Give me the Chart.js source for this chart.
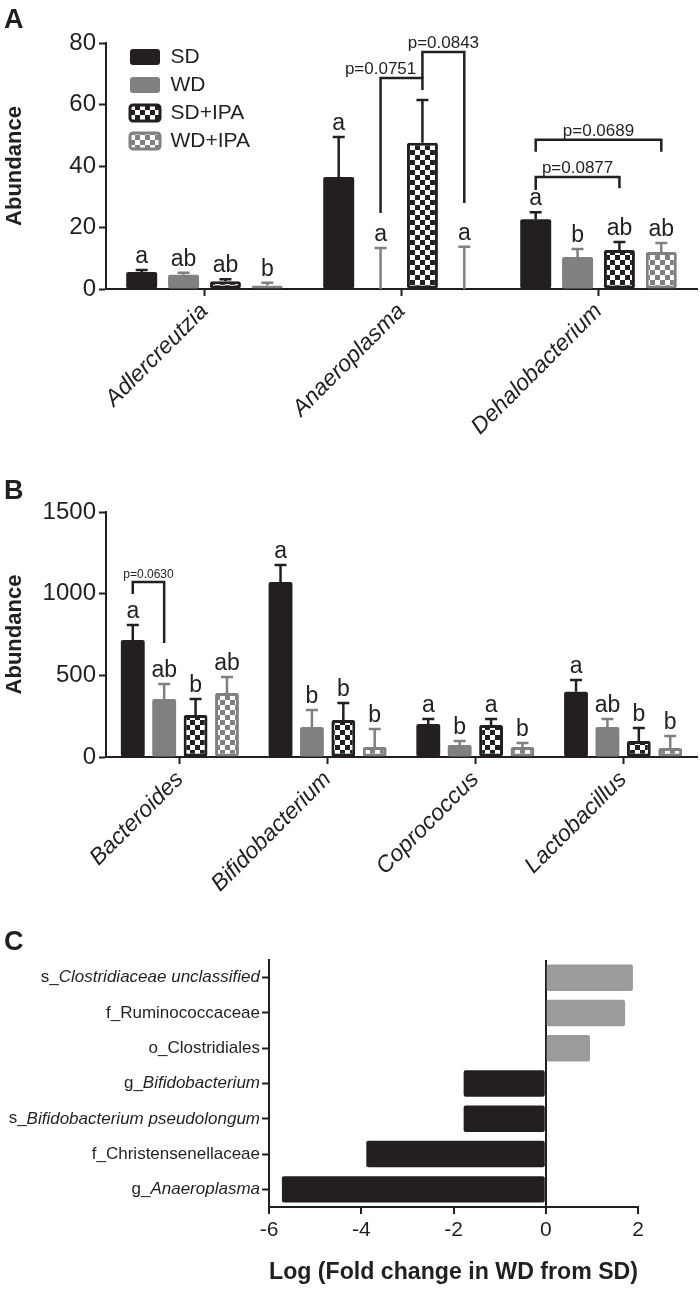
<!DOCTYPE html>
<html>
<head>
<meta charset="utf-8">
<title>Abundance by diet</title>
<script src="https://cdn.jsdelivr.net/npm/chart.js@4.4.1/dist/chart.umd.min.js"></script>
<style>
  body { margin: 0; background: #fff; }
  #page { position: relative; width: 700px; height: 1290px; overflow: hidden; font-family: 'Liberation Sans', Arial, sans-serif; color: #231f20; }
  .tag { position: absolute; left: 4px; font-size: 27px; line-height: 27px; font-weight: bold; }
  canvas { position: absolute; left: 0; }
</style>
</head>
<body>
<div id="page">
  <canvas id="chartA" width="700" height="440" style="top:0"></canvas>
  <canvas id="chartB" width="700" height="440" style="top:460px"></canvas>
  <canvas id="chartC" width="700" height="370" style="top:920px"></canvas>
  <div class="tag" style="top:6px">A</div>
  <div class="tag" style="top:477px">B</div>
  <div class="tag" style="top:928px">C</div>
</div>
<script>
const groups = ['SD', 'WD', 'SD+IPA', 'WD+IPA'];

// Panel A
const generaA = ['Adlercreutzia', 'Anaeroplasma', 'Dehalobacterium'];
const sdA = [5.5, 36.4, 22.7];
const wdA = [4.6, 0, 10.4];
const sdIpaA = [2.5, 47.6, 12.7];
const wdIpaA = [1.1, 0, 12.0];
// upper end of each error bar
const sdErrA = [6.2, 49.4, 25.0];
const wdErrA = [5.3, 13.3, 13.0];
const sdIpaErrA = [3.2, 61.5, 15.3];
const wdIpaErrA = [2.0, 13.7, 15.0];
const sdLettersA = ['a', 'a', 'a'];
const wdLettersA = ['ab', 'a', 'b'];
const sdIpaLettersA = ['ab', '', 'ab'];
const wdIpaLettersA = ['b', 'a', 'ab'];
const ticksA = [0, 20, 40, 60, 80];
const bracketsA = [
  { genus: 1, from: 'WD', to: 'SD+IPA', top: 68.6, ends: [24.7, 64.7], p: 'p=0.0751', over: 'from' },
  { genus: 1, from: 'SD+IPA', to: 'WD+IPA', top: 77.1, ends: [68.6, 28.0], p: 'p=0.0843' },
  { genus: 2, from: 'SD', to: 'WD+IPA', top: 48.5, ends: [44.6, 44.6], p: 'p=0.0689' },
  { genus: 2, from: 'SD', to: 'SD+IPA', top: 36.4, ends: [32.2, 32.8], p: 'p=0.0877' }
];

// Panel B
const generaB = ['Bacteroides', 'Bifidobacterium', 'Coprococcus', 'Lactobacillus'];
const sdB = [716, 1071, 202, 399];
const wdB = [355, 184, 73, 184];
const sdIpaB = [257, 226, 196, 98];
const wdIpaB = [392, 61, 61, 55];
const sdErrB = [808, 1175, 233, 471];
const wdErrB = [447, 288, 98, 233];
const sdIpaErrB = [355, 330, 233, 177];
const wdIpaErrB = [490, 171, 86, 129];
const sdLettersB = ['a', 'a', 'a', 'a'];
const wdLettersB = ['ab', 'b', 'b', 'ab'];
const sdIpaLettersB = ['b', 'b', 'a', 'b'];
const wdIpaLettersB = ['ab', 'b', 'b', 'b'];
const ticksB = [0, 500, 1000, 1500];
const bracketsB = [
  { genus: 0, from: 'SD', to: 'WD', top: 1071, ends: [998, 698], p: 'p=0.0630' }
];

// Panel C
const taxa = ['s_Clostridiaceae unclassified', 'f_Ruminococcaceae', 'o_Clostridiales',
  'g_Bifidobacterium', 's_Bifidobacterium pseudolongum', 'f_Christensenellaceae', 'g_Anaeroplasma'];
const logFold = [1.89, 1.72, 0.96, -1.78, -1.78, -3.89, -5.72];
const ticksC = [-6, -4, -2, 0, 2];

const BLACK = '#231f20';
const GREY = '#808080';
const LIGHT = '#9b9b9b';
const FONT = "'Liberation Sans', Arial, sans-serif";

Chart.defaults.font.family = FONT;
Chart.defaults.color = BLACK;

function checker(color) {
  const size = 5;
  const tile = document.createElement('canvas');
  tile.width = tile.height = size * 2;
  const g = tile.getContext('2d');
  g.fillStyle = '#fff';
  g.fillRect(0, 0, size * 2, size * 2);
  g.fillStyle = color;
  g.fillRect(0, 0, size, size);
  g.fillRect(size, size, size, size);
  return g.createPattern(tile, 'repeat');
}

const fills = [BLACK, GREY, checker(BLACK), checker(GREY)];
const strokes = [BLACK, GREY, BLACK, GREY];

// error bars (upper only) and the letters above them
const errorBars = {
  id: 'errorBars',
  afterDatasetsDraw(chart) {
    const { ctx } = chart;
    const y = chart.scales.y;
    chart.data.datasets.forEach((ds, di) => {
      chart.getDatasetMeta(di).data.forEach((bar, i) => {
        const top = y.getPixelForValue(ds.errTop[i]);
        const base = y.getPixelForValue(ds.data[i]);
        ctx.save();
        ctx.strokeStyle = ds.borderColor;
        ctx.lineWidth = 2.5;
        ctx.beginPath();
        ctx.moveTo(bar.x, base);
        ctx.lineTo(bar.x, top);
        ctx.moveTo(bar.x - 6, top);
        ctx.lineTo(bar.x + 6, top);
        ctx.stroke();
        ctx.fillStyle = BLACK;
        ctx.font = '23px ' + FONT;
        ctx.textAlign = 'center';
        ctx.fillText(ds.letters[i], bar.x, top - 7);
        ctx.restore();
      });
    });
  }
};

const pBrackets = {
  id: 'pBrackets',
  afterDatasetsDraw(chart, args, opts) {
    const { ctx } = chart;
    const y = chart.scales.y;
    ctx.save();
    ctx.strokeStyle = BLACK;
    ctx.fillStyle = BLACK;
    ctx.lineWidth = 2.5;
    ctx.font = opts.fontSize + 'px ' + FONT;
    ctx.textAlign = 'center';
    opts.items.forEach(b => {
      const x1 = chart.getDatasetMeta(groups.indexOf(b.from)).data[b.genus].x;
      const x2 = chart.getDatasetMeta(groups.indexOf(b.to)).data[b.genus].x;
      const top = y.getPixelForValue(b.top);
      ctx.beginPath();
      ctx.moveTo(x1, y.getPixelForValue(b.ends[0]));
      ctx.lineTo(x1, top);
      ctx.lineTo(x2, top);
      ctx.lineTo(x2, y.getPixelForValue(b.ends[1]));
      ctx.stroke();
      const lx = b.over === 'from' ? x1 : (x1 + x2) / 2;
      ctx.fillText(b.p, lx, top - 4);
    });
    ctx.restore();
  }
};

// a vertical legend inside the plot gets top = 0, so put it back in the plot area
const legendNudge = {
  id: 'legendNudge',
  afterLayout(chart) {
    const l = chart.legend;
    if (!l || !l.options.display) return;
    l.left = chart.chartArea.left + 17;
    l.top = chart.chartArea.top - 3.5;
    l.bottom = l.top + l.height;
  }
};

function barPanel(id, genera, values, errs, letters, ticks, brackets, o) {
  const datasets = groups.map((g, i) => ({
    label: g,
    data: values[i],
    errTop: errs[i],
    letters: letters[i],
    backgroundColor: fills[i],
    borderColor: strokes[i],
    borderWidth: i > 1 ? 3 : 0,
    borderSkipped: false,
    borderRadius: 2,
    categoryPercentage: 0.85,
    barPercentage: o.barPct
  }));
  return new Chart(document.getElementById(id), {
    type: 'bar',
    data: { labels: genera, datasets },
    options: {
      responsive: false,
      animation: false,
      layout: { padding: { top: o.top, right: 3, left: 0, bottom: 0 } },
      plugins: {
        tooltip: { enabled: false },
        legend: {
          display: o.legend,
          position: 'chartArea',
          align: 'start',
          labels: {
            boxWidth: 30, boxHeight: 16, padding: 7,
            font: { size: 21 }, color: BLACK,
            useBorderRadius: true, borderRadius: 3
          }
        },
        pBrackets: { items: brackets, fontSize: o.pFont }
      },
      scales: {
        x: {
          ticks: { font: { size: 23, style: 'italic' }, minRotation: 45, maxRotation: 45, autoSkip: false, padding: 2 },
          grid: { offset: false, drawOnChartArea: false, tickColor: BLACK, tickLength: 7, tickWidth: 2 },
          border: { color: BLACK, width: 2 },
          afterFit: s => { s.height = o.xHeight; }
        },
        y: {
          min: ticks[0],
          max: ticks[ticks.length - 1],
          ticks: { stepSize: ticks[1] - ticks[0], font: { size: 24 }, padding: 3, callback: v => String(v) },
          grid: { drawOnChartArea: false, tickColor: BLACK, tickLength: 7, tickWidth: 2 },
          border: { color: BLACK, width: 2 },
          title: { display: true, text: 'Abundance', font: { size: 22, weight: 'bold' }, padding: { top: 2, bottom: 0 } },
          afterFit: s => { s.width = 106; }
        }
      }
    },
    plugins: [errorBars, pBrackets, legendNudge]
  });
}

barPanel('chartA', generaA,
  [sdA, wdA, sdIpaA, wdIpaA],
  [sdErrA, wdErrA, sdIpaErrA, wdIpaErrA],
  [sdLettersA, wdLettersA, sdIpaLettersA, wdIpaLettersA],
  ticksA, bracketsA,
  { top: 43, xHeight: 151, barPct: 0.74, legend: true, pFont: 17 });

barPanel('chartB', generaB,
  [sdB, wdB, sdIpaB, wdIpaB],
  [sdErrB, wdErrB, sdIpaErrB, wdIpaErrB],
  [sdLettersB, wdLettersB, sdIpaLettersB, wdIpaLettersB],
  ticksB, bracketsB,
  { top: 52, xHeight: 143, barPct: 0.76, legend: false, pFont: 12 });

// taxon names: rank prefix upright, genus / species names in italics
const taxonLabels = {
  id: 'taxonLabels',
  afterDraw(chart) {
    const { ctx } = chart;
    const y = chart.scales.y;
    const right = y.right - 9;
    ctx.save();
    ctx.fillStyle = BLACK;
    ctx.textBaseline = 'middle';
    ctx.textAlign = 'right';
    chart.data.labels.forEach((label, i) => {
      const py = y.getPixelForTick(i);
      const rank = label.slice(0, 2);
      const name = label.slice(2);
      const italic = rank === 's_' || rank === 'g_';
      ctx.font = (italic ? 'italic ' : '') + '17px ' + FONT;
      const w = ctx.measureText(name).width;
      ctx.fillText(name, right, py);
      ctx.font = '17px ' + FONT;
      ctx.fillText(rank, right - w, py);
    });
    ctx.restore();
  }
};

new Chart(document.getElementById('chartC'), {
  type: 'bar',
  data: {
    labels: taxa,
    datasets: [{
      data: logFold,
      backgroundColor: c => (c.raw < 0 ? BLACK : LIGHT),
      barPercentage: 0.75,
      categoryPercentage: 1,
      borderRadius: 2,
      borderSkipped: false
    }]
  },
  options: {
    indexAxis: 'y',
    responsive: false,
    animation: false,
    layout: { padding: { top: 40, right: 62, left: 0, bottom: 0 } },
    plugins: { legend: { display: false }, tooltip: { enabled: false } },
    scales: {
      x: {
        min: ticksC[0],
        max: ticksC[ticksC.length - 1],
        ticks: { stepSize: ticksC[1] - ticksC[0], font: { size: 21 }, padding: 4 },
        grid: {
          color: c => (c.tick && c.tick.value === 0 ? BLACK : 'rgba(0,0,0,0)'),
          lineWidth: 2, tickColor: BLACK, tickLength: 7, tickWidth: 2
        },
        border: { color: BLACK, width: 2 },
        title: { display: true, text: 'Log (Fold change in WD from SD)', font: { size: 23.5, weight: 'bold' }, padding: { top: 4, bottom: 3 } },
        afterFit: s => { s.height = 83; }
      },
      y: {
        ticks: { display: false },
        grid: { offset: false, drawOnChartArea: false, tickColor: BLACK, tickLength: 7, tickWidth: 2 },
        border: { color: BLACK, width: 2 },
        afterFit: s => { s.width = 269; }
      }
    }
  },
  plugins: [taxonLabels]
});
</script>
</body>
</html>
